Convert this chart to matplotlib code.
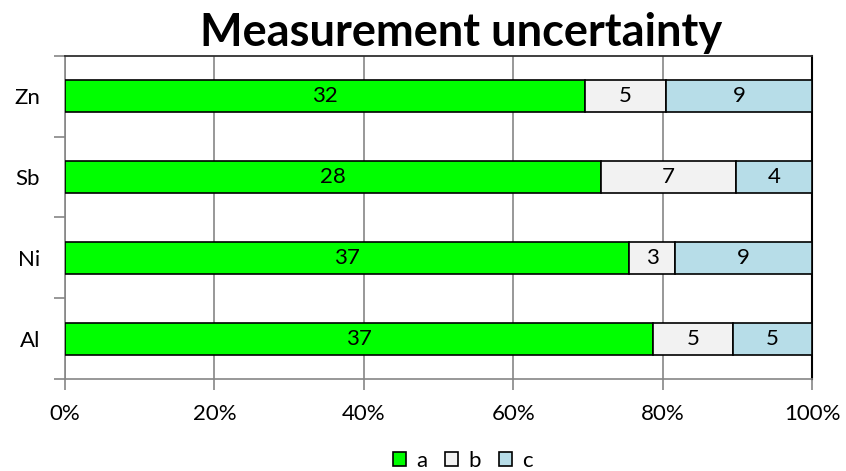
import matplotlib
matplotlib.use('Agg')
import matplotlib.pyplot as plt
import numpy as np
from matplotlib.ticker import PercentFormatter

plt.rcParams['font.family'] = ['Lato', 'DejaVu Sans']

# Elements, bottom to top
elements = ['Al', 'Ni', 'Sb', 'Zn']
# Uncertainty components
a_vals = [37, 37, 28, 32]
b_vals = [5, 3, 7, 5]
c_vals = [5, 9, 4, 9]
series_names = ['a', 'b', 'c']
colors = ['#00FF00', '#F2F2F2', '#B7DDE8']

data = np.array([a_vals, b_vals, c_vals], dtype=float)
totals = data.sum(axis=0)
shares = data / totals * 100

fig = plt.figure(figsize=(8.46, 4.71), dpi=100)
ax = fig.add_axes([0.0768, 0.1947, 0.960 - 0.0768, 0.8818 - 0.1947])

y = np.arange(len(elements))
left = np.zeros(len(elements))
for i in range(3):
    bars = ax.barh(y, shares[i], left=left, height=0.4, color=colors[i],
                   edgecolor='black', linewidth=1.2, label=series_names[i], zorder=3)
    for j, rect in enumerate(bars):
        cx = rect.get_x() + rect.get_width() / 2
        ax.text(cx, y[j], f'{int(data[i, j])}', ha='center', va='center',
                fontsize=16, color='black', zorder=4)
    left += shares[i]

ax.set_xlim(0, 100)
ax.set_ylim(-0.5, len(elements) - 0.5)
ax.xaxis.set_major_formatter(PercentFormatter(decimals=0))
ax.set_xticks(np.arange(0, 101, 20))
ax.set_yticks(y)
ax.set_yticklabels(elements)
ax.set_yticks(np.arange(-0.5, len(elements), 1), minor=True)
ax.tick_params(axis='y', which='major', length=0, labelsize=16, pad=18)
ax.tick_params(axis='y', which='minor', length=8, color='#868686', width=1.2)
ax.tick_params(axis='x', length=8, color='#868686', width=1.2, labelsize=16, pad=10)
ax.grid(axis='x', color='#868686', linewidth=1.2, zorder=0)

for s in ['left', 'bottom']:
    ax.spines[s].set_color('#868686')
    ax.spines[s].set_linewidth(1.2)
ax.spines['top'].set_color('#303030')
ax.spines['top'].set_linewidth(1.3)
ax.spines['right'].set_color('black')
ax.spines['right'].set_linewidth(1.5)

fig.text(0.5455, 0.929, 'Measurement uncertainty', ha='center', va='center',
         fontsize=32.5, fontweight='bold')

fig.legend(loc='center', bbox_to_anchor=(0.547, 0.022), ncol=3, frameon=False,
           fontsize=16, handlelength=0.6, handleheight=0.6, handletextpad=0.45,
           columnspacing=0.8, borderpad=0)

fig.savefig('out.png', dpi=100)
